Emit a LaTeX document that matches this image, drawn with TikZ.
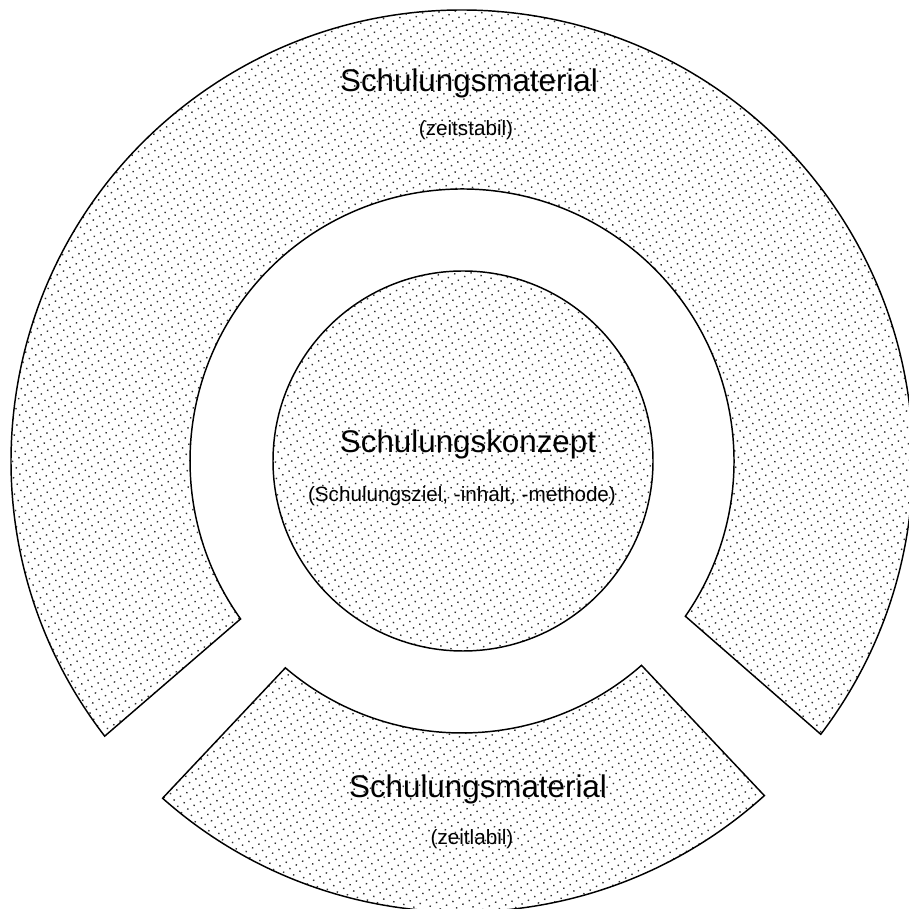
\documentclass[tikz,border=0pt]{standalone}
\usepackage{fontspec}
\setmainfont{Liberation Sans}
\usetikzlibrary{patterns.meta}
\begin{document}
\begin{tikzpicture}[x=0.75pt,y=0.75pt,
  piece/.style={draw=black, line width=1.1pt, line join=miter,
    pattern={Dots[distance=5.5pt,radius=0.75pt,angle=30]}, pattern color=black!80},
  titletext/.style={font=\fontsize{23.5}{28}\selectfont, inner sep=0pt, anchor=base},
  subtext/.style={font=\fontsize{15.5}{18}\selectfont, inner sep=0pt, anchor=base}]
\useasboundingbox (0,0) rectangle (908,909);
\coordinate (C) at (462,448);
% outer ring, upper part
\path[piece] ([shift={(217.6:451)}]C) arc[start angle=217.6, end angle=-37.3, radius=451]
  -- ([shift={(-34.8:272)}]C) arc[start angle=-34.8, end angle=215.5, radius=272] -- cycle;
% bottom sector
\path[piece] ([shift={(-130.5:272)}]C) arc[start angle=-130.5, end angle=-48.7, radius=272]
  -- ([shift={(-47.9:451)}]C) arc[start angle=-47.9, end angle=-131.6, radius=451] -- cycle;
% core circle
\path[piece] (463,448) circle[radius=190];
% texts
\node[titletext] (t1) at (469,817) {Schulungsmaterial};
\node[subtext] (s1) at (466,773) {(zeitstabil)};
\node[titletext] (t2) at (468,456) {Schulungskonzept};
\node[subtext] (s2) at (462,407) {(Schulungsziel, -inhalt, -methode)};
\node[titletext] (t3) at (478,111) {Schulungsmaterial};
\node[subtext] (s3) at (472,64) {(zeitlabil)};
\end{tikzpicture}
\end{document}
